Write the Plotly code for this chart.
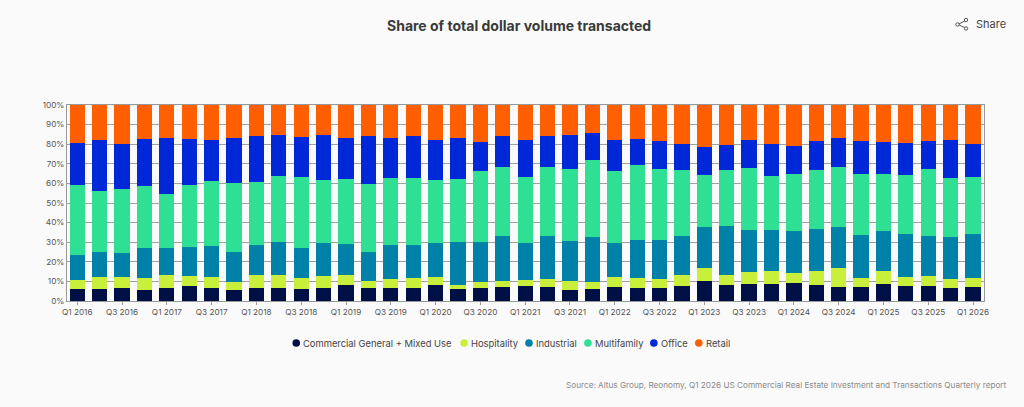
import plotly.graph_objects as go

quarters = [f"Q{q} {y}" for y in range(2016, 2026) for q in (1, 2, 3, 4)] + ["Q1 2026"]
percent_ticks = list(range(0, 101, 10))
percent_labels = [f"{p}%" for p in percent_ticks]

commercial = [6.3, 6.0, 6.8, 5.6, 6.8, 7.5, 6.5, 5.6, 6.6, 6.5, 6.1, 6.6, 8.0, 6.6,
              6.5, 6.5, 8.0, 6.1, 6.6, 7.3, 7.5, 7.0, 5.6, 6.0, 7.1, 6.5, 6.5,
              7.7, 10.2, 8.0, 8.5, 8.8, 9.2, 8.2, 7.0, 7.1, 8.7, 7.7, 7.7, 6.8, 7.1]
hospitality = [4.4, 6.1, 5.6, 6.1, 6.5, 5.3, 5.6, 3.9, 6.5, 6.6, 5.8, 6.0, 5.4, 3.6,
               4.9, 5.4, 4.1, 2.2, 3.1, 2.7, 3.4, 4.2, 4.4, 3.7, 5.3, 5.2, 4.9,
               5.4, 6.6, 5.4, 6.3, 6.3, 4.9, 6.9, 9.7, 4.8, 6.6, 4.4, 5.1, 4.6, 4.5]
industrial = [12.9, 12.7, 12.1, 15.2, 13.6, 14.9, 15.8, 15.7, 15.3, 17.0, 15.1, 17.2, 15.9, 14.8,
              17.0, 16.5, 17.7, 21.8, 20.4, 23.2, 18.9, 22.1, 20.4, 23.0, 17.4, 19.4, 19.7,
              20.1, 21.0, 24.9, 21.6, 21.3, 21.6, 21.8, 20.9, 21.9, 20.6, 21.9, 20.4, 21.4, 22.4]
multifamily = [35.4, 31.3, 32.8, 31.8, 27.9, 31.3, 33.2, 35.0, 32.5, 33.8, 36.3, 31.9, 33.1, 34.9,
               34.2, 34.5, 31.8, 32.3, 36.4, 35.2, 33.5, 35.1, 36.9, 39.1, 36.4, 38.3, 36.1,
               33.8, 26.5, 28.4, 31.6, 27.5, 28.9, 30.1, 30.8, 30.8, 29.1, 30.5, 34.1, 30.1, 29.1]
office = [21.8, 26.2, 22.8, 24.1, 28.5, 23.8, 20.9, 23.1, 23.1, 20.6, 20.5, 22.8, 20.6, 24.5,
          20.7, 21.1, 20.7, 20.6, 14.5, 16.0, 19.0, 15.8, 17.2, 14.1, 15.9, 13.3, 14.6,
          13.3, 14.1, 12.7, 14.1, 16.4, 14.3, 14.6, 14.9, 17.2, 16.3, 15.9, 14.3, 19.4, 17.2]
retail = [19.2, 17.7, 19.9, 17.2, 16.7, 17.2, 18.0, 16.7, 16.0, 15.5, 16.2, 15.5, 17.0, 15.6,
          16.7, 16.0, 17.7, 17.0, 19.0, 15.6, 17.7, 15.8, 15.5, 14.1, 17.9, 17.3, 18.2,
          19.7, 21.6, 20.6, 17.9, 19.7, 21.1, 18.4, 16.7, 18.2, 18.7, 19.6, 18.4, 17.7, 19.7]

series = [
    ("Commercial General + Mixed Use", commercial, "#000F45", 296),
    ("Hospitality", hospitality, "#C8EF3C", 464),
    ("Industrial", industrial, "#0081A8", 529),
    ("Multifamily", multifamily, "#2FDF93", 588),
    ("Office", office, "#0027D8", 654),
    ("Retail", retail, "#FF5F00", 699),
]

W, H = 1024, 407
LEFT, RIGHT, TOP, BOTTOM = 66.5, 984.5, 105, 301
FONT = "Inter, sans-serif"


def px(x):
    return (x - LEFT) / (RIGHT - LEFT)


def py(y):
    return (BOTTOM - y) / (BOTTOM - TOP)


fig = go.Figure()
for name, values, color, _ in series:
    fig.add_bar(x=quarters, y=values, name=name, marker=dict(color=color, line_width=0),
                showlegend=False)

shapes = []
annotations = [
    dict(text="<b>Share of total dollar volume transacted</b>", x=px(519), y=py(26),
         font=dict(size=14, color="#3A3A3A")),
    dict(text="Share", x=px(974), y=py(24), xanchor="left",
         font=dict(size=11, color="#444444")),
    dict(text="Source: Altus Group, Reonomy, Q1 2026 US Commercial Real Estate Investment "
              "and Transactions Quarterly report",
         x=px(1010), y=py(385), xanchor="right", font=dict(size=8.2, color="#8A8A8A")),
]

# Legend row: dot plus label for each property type
for name, _, color, cx in series:
    shapes.append(dict(type="circle", xref="paper", yref="paper", layer="above",
                       x0=px(cx - 3.8), x1=px(cx + 3.8), y0=py(343 + 3.8), y1=py(343 - 3.8),
                       fillcolor=color, line_width=0))
    annotations.append(dict(text=name, x=px(cx + 5), y=py(343), xanchor="left",
                            font=dict(size=9.4, color="#444444")))

# Share icon: three small nodes joined by two strokes
icon = "#555555"
for (a, b, c, d) in [(958.5, 24.5, 966, 20.5), (958.5, 24.5, 966, 28)]:
    shapes.append(dict(type="line", xref="paper", yref="paper",
                       x0=px(a), y0=py(b), x1=px(c), y1=py(d), line=dict(color=icon, width=1)))
for (cx, cy) in [(958, 24.5), (966.5, 20), (966.5, 28.5)]:
    shapes.append(dict(type="circle", xref="paper", yref="paper",
                       x0=px(cx - 1.7), x1=px(cx + 1.7), y0=py(cy + 1.7), y1=py(cy - 1.7),
                       fillcolor="#FAFAFA", line=dict(color=icon, width=1)))

for a in annotations:
    a.update(xref="paper", yref="paper", showarrow=False)
    a.setdefault("xanchor", "center")
    a.setdefault("yanchor", "middle")

fig.update_layout(
    width=W, height=H,
    margin=dict(l=LEFT, r=W - RIGHT, t=TOP, b=H - BOTTOM, autoexpand=False),
    barmode="stack", bargap=0.32,
    paper_bgcolor="#FAFAFA", plot_bgcolor="#FAFAFA",
    font=dict(family=FONT, size=9, color="#555555"),
    shapes=shapes, annotations=annotations,
    showlegend=False,
)
fig.update_xaxes(
    type="category", range=[-0.46, 40.49],
    tickmode="array", tickvals=quarters[::2], ticktext=quarters[::2],
    tickangle=0, showgrid=False, showline=True, linecolor="#999999", linewidth=1,
    ticks="outside", ticklen=3, tickcolor="#999999", mirror=True,
    tickfont=dict(size=8.2, color="#555555"),
)
fig.update_yaxes(
    range=[0, 100], tickmode="array", tickvals=percent_ticks, ticktext=percent_labels,
    showgrid=True, gridcolor="#A0A0A0", gridwidth=1,
    showline=True, linecolor="#999999", linewidth=1, mirror=True, ticks="",
    tickfont=dict(size=8.2, color="#555555"), zeroline=False,
)

fig.write_html("out.html", config=dict(displayModeBar=False))
